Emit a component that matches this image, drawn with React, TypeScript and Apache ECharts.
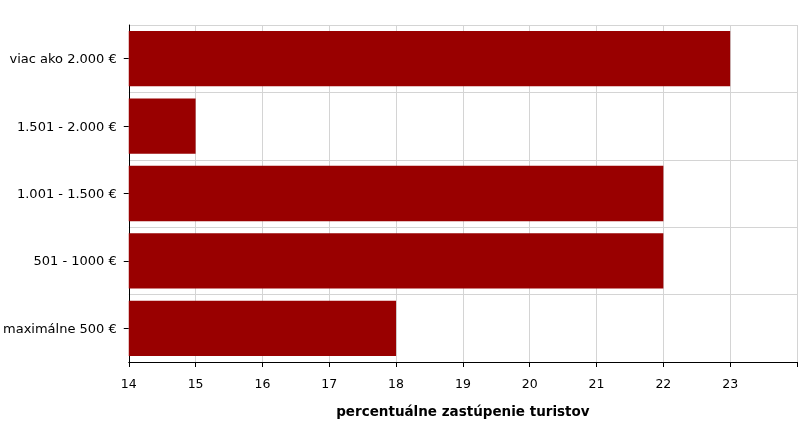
import React, { useEffect, useRef } from "react";
import * as echarts from "echarts";

const categories = [
  "viac ako 2.000 €",
  "1.501 - 2.000 €",
  "1.001 - 1.500 €",
  "501 - 1000 €",
  "maximálne 500 €",
];
const values = [23, 15, 22, 22, 18];
const axisTitle = "percentuálne zastúpenie turistov";

export default function App() {
  const ref = useRef<HTMLDivElement>(null);
  useEffect(() => {
    if (!ref.current) return;
    const chart = echarts.init(ref.current, null, { renderer: "svg" });
    chart.setOption({
      animation: false,
      textStyle: { fontFamily: "DejaVu Sans" },
      grid: { left: 127, right: 1, top: 25, bottom: 65, containLabel: false },
      xAxis: {
        type: "value",
        min: 14,
        max: 24,
        interval: 1,
        name: axisTitle,
        nameLocation: "middle",
        nameGap: 42,
        nameTextStyle: { fontSize: 13.5, fontWeight: "bold", color: "#000", fontFamily: "DejaVu Sans" },
        axisLine: { show: true, lineStyle: { color: "#000", width: 1 } },
        axisTick: { show: true, length: 5, lineStyle: { color: "#000" } },
        axisLabel: {
          fontSize: 12.5,
          color: "#000",
          margin: 15,
          formatter: (v: number) => (v === 24 ? "" : String(v)),
        },
        splitLine: { show: true, lineStyle: { color: "#d4d4d4", width: 1 } },
      },
      yAxis: {
        type: "category",
        data: categories,
        inverse: true,
        axisLine: { show: true, lineStyle: { color: "#000", width: 1 } },
        axisTick: { show: true, length: 5, alignWithLabel: true, lineStyle: { color: "#000" } },
        axisLabel: { fontSize: 13, color: "#000", margin: 12 },
        splitLine: { show: true, lineStyle: { color: "#d4d4d4", width: 1 } },
      },
      series: [
        {
          type: "bar",
          data: values,
          barCategoryGap: "18%",
          itemStyle: { color: "#990000" },
        },
      ],
    });
    return () => chart.dispose();
  }, []);
  return (
    <div
      ref={ref}
      style={{ position: "fixed", left: 0, top: 0, width: 800, height: 427 }}
    />
  );
}
